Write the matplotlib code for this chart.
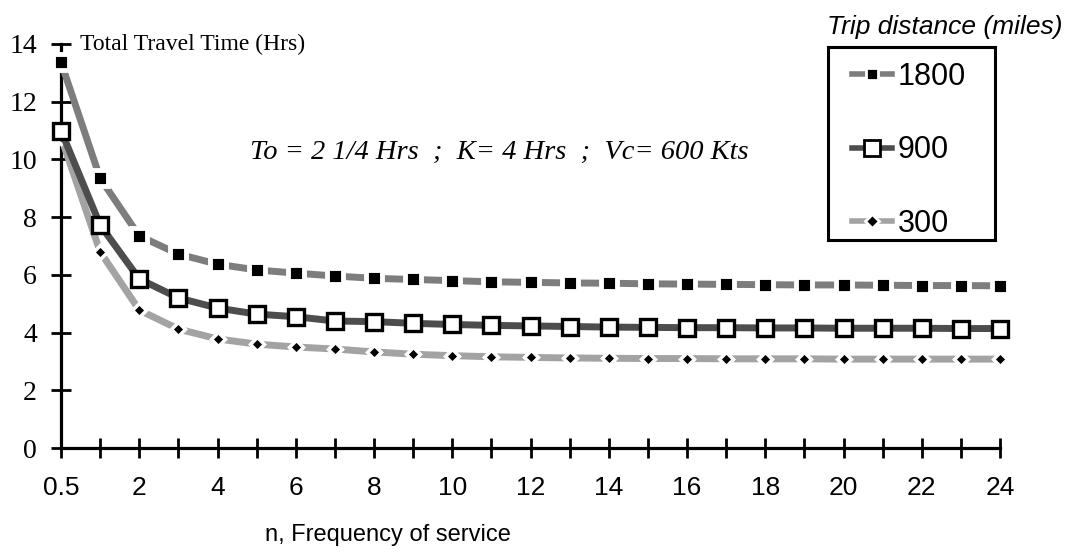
import matplotlib
matplotlib.use("Agg")
import matplotlib.pyplot as plt
from matplotlib.lines import Line2D
from matplotlib.patches import Rectangle

# ---- data ----
n_labels = ["0.5", "1", "2", "3", "4", "5", "6", "7", "8", "9", "10", "11", "12",
            "13", "14", "15", "16", "17", "18", "19", "20", "21", "22", "23", "24"]
tick_labels_shown = ["0.5", "2", "4", "6", "8", "10", "12", "14", "16", "18", "20", "22", "24"]
t1800 = [13.37, 9.35, 7.35, 6.72, 6.37, 6.17, 6.06, 5.96, 5.88, 5.84, 5.80, 5.76, 5.74,
         5.72, 5.71, 5.69, 5.68, 5.67, 5.66, 5.65, 5.65, 5.64, 5.63, 5.63, 5.62]
t900 = [11.00, 7.73, 5.86, 5.20, 4.85, 4.64, 4.55, 4.40, 4.38, 4.32, 4.28, 4.25, 4.23,
        4.21, 4.19, 4.18, 4.17, 4.17, 4.16, 4.16, 4.15, 4.15, 4.15, 4.14, 4.14]
t300 = [10.78, 6.80, 4.78, 4.12, 3.78, 3.60, 3.50, 3.43, 3.33, 3.25, 3.20, 3.16, 3.14,
        3.12, 3.11, 3.10, 3.10, 3.09, 3.09, 3.09, 3.08, 3.08, 3.08, 3.08, 3.08]
series_names = ["1800", "900", "300"]
y_ticks = [0, 2, 4, 6, 8, 10, 12, 14]

x = list(range(len(n_labels)))

fig = plt.figure(figsize=(10.69, 5.53), dpi=100)
ax = fig.add_axes([61 / 1069, 1 - 448 / 553, (1000 - 61) / 1069, (448 - 44) / 553])

l300, = ax.plot(x, t300, color="#a3a3a3", lw=5, marker="D", ms=7.5, mfc="black",
                mec="white", mew=2.5, clip_on=False, zorder=3)
l1800, = ax.plot(x, t1800, color="#7d7d7d", lw=5, marker="s", ms=11.5, mfc="black",
                 mec="white", mew=3.5, clip_on=False, zorder=4)
l900, = ax.plot(x, t900, color="#4d4d4d", lw=5, marker="s", ms=11.5, mfc="white",
                mec="black", mew=2.4, clip_on=False, zorder=5)

ax.set_xlim(0, 24)
ax.set_ylim(0, 14)
for s in ["top", "right"]:
    ax.spines[s].set_visible(False)
for s in ["left", "bottom"]:
    ax.spines[s].set_linewidth(2.3)

ax.set_xticks(x)
ax.set_xticklabels([lab if lab in tick_labels_shown else "" for lab in n_labels],
                   family="Liberation Sans", fontsize=19)
ax.set_yticks(y_ticks)
ax.set_yticklabels([str(v) for v in y_ticks], family="Liberation Serif", fontsize=20)
ax.tick_params(axis="both", direction="inout", length=14.4, width=2.0)
ax.tick_params(axis="y", pad=10)
ax.tick_params(axis="x", pad=13)

ax.text(0.48, 14, "Total Travel Time (Hrs)", family="Liberation Serif", fontsize=17,
        ha="left", va="center")
ax.text(11.2, 10.26, "To = 2 1/4 Hrs  ;  K= 4 Hrs  ;  Vc= 600 Kts", family="Liberation Serif",
        style="italic", fontsize=20.5, ha="center", va="center")

fig.text(388 / 1069, 1 - 535 / 553, "n, Frequency of service", family="Liberation Sans",
         fontsize=17, ha="center", va="center")
fig.text(945 / 1069, 1 - 27 / 553, "Trip distance (miles)", family="Liberation Sans",
         style="italic", fontsize=19, ha="center", va="center")

# legend frame
fig.patches.append(Rectangle((828 / 1069, 1 - 240 / 553), (995 - 828) / 1069, (240 - 47) / 553,
                             transform=fig.transFigure, facecolor="white", edgecolor="black",
                             linewidth=2.2, zorder=1))

h1800 = Line2D([], [], color="#7d7d7d", lw=4, marker="s", ms=9, mfc="black", mec="white", mew=2)
h900 = Line2D([], [], color="#4d4d4d", lw=4, marker="s", ms=11, mfc="white", mec="black", mew=2)
h300 = Line2D([], [], color="#a3a3a3", lw=4, marker="D", ms=7, mfc="black", mec="white", mew=2)
leg = fig.legend([h1800, h900, h300], series_names, loc="upper left",
                 bbox_to_anchor=(852 / 1069, 1 - 62 / 553), frameon=False,
                 handlelength=1.3, handletextpad=0.2, labelspacing=1.42, borderpad=0,
                 borderaxespad=0, prop={"family": "Liberation Sans", "size": 22})
leg.set_zorder(2)

fig.savefig("out.png", dpi=100)
